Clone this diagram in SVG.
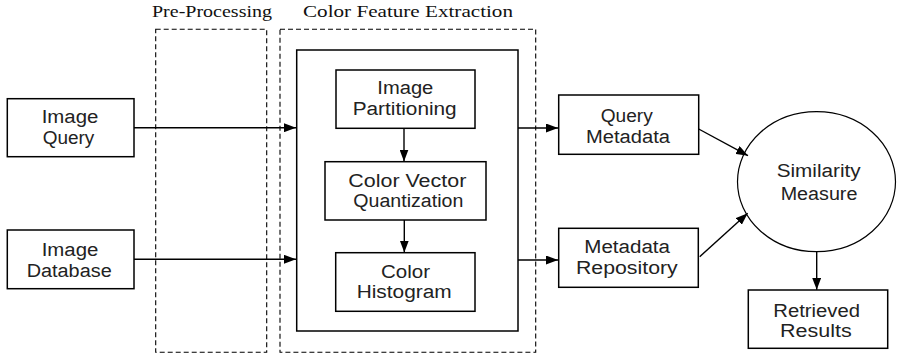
<svg xmlns="http://www.w3.org/2000/svg" width="897" height="353" viewBox="0 0 897 353">
<defs>
<style>
.box{fill:#fff;stroke:#000;stroke-width:1.5}
.dash{fill:none;stroke:#000;stroke-width:1.1;stroke-dasharray:5 3}
.t{font-family:"Liberation Sans",Arial,sans-serif;font-size:18px;fill:#222}
.s{font-family:"Liberation Serif","Times New Roman",serif;font-size:17px;fill:#111}
.c{fill:none;stroke:#000;stroke-width:1.4;marker-end:url(#ah)}
</style>
<marker id="ah" markerUnits="userSpaceOnUse" markerWidth="12" markerHeight="9" refX="12" refY="4.5" orient="auto">
<path d="M0,0 L12,4.5 L0,9 z" fill="#000"/>
</marker>
</defs>
<rect width="897" height="353" fill="#fff"/>

<g id="pre-processing">
<rect class="dash" x="155.7" y="29.3" width="111" height="323"/>
<text class="s" x="152" y="17" textLength="120" lengthAdjust="spacingAndGlyphs">Pre-Processing</text>
</g>
<g id="color-feature-extraction">
<rect class="dash" x="280" y="29.3" width="255.7" height="323"/>
<text class="s" x="303" y="17" textLength="210" lengthAdjust="spacingAndGlyphs">Color Feature Extraction</text>
<rect class="box" x="296.7" y="50" width="221.3" height="281"/>
</g>

<g id="image-query">
<rect class="box" x="7.3" y="98.7" width="126.7" height="58"/>
<text class="t" x="41.7" y="123.3" textLength="56.7" lengthAdjust="spacingAndGlyphs">Image</text>
<text class="t" x="42.7" y="144.3" textLength="51.6" lengthAdjust="spacingAndGlyphs">Query</text>
</g>
<g id="image-database">
<rect class="box" x="7.3" y="230" width="126.7" height="58.7"/>
<text class="t" x="41.7" y="256.3" textLength="56.7" lengthAdjust="spacingAndGlyphs">Image</text>
<text class="t" x="26.7" y="277" textLength="85" lengthAdjust="spacingAndGlyphs">Database</text>
</g>
<g id="image-partitioning">
<rect class="box" x="336" y="70" width="139" height="58.3"/>
<text class="t" x="377.3" y="93.5" textLength="56" lengthAdjust="spacingAndGlyphs">Image</text>
<text class="t" x="352.7" y="115" textLength="104" lengthAdjust="spacingAndGlyphs">Partitioning</text>
</g>
<g id="color-vector-quantization">
<rect class="box" x="325" y="161.7" width="161" height="58.3"/>
<text class="t" x="348.3" y="186.7" textLength="118" lengthAdjust="spacingAndGlyphs">Color Vector</text>
<text class="t" x="353.3" y="206.7" textLength="110" lengthAdjust="spacingAndGlyphs">Quantization</text>
</g>
<g id="color-histogram">
<rect class="box" x="335.7" y="252.7" width="139.3" height="58.6"/>
<text class="t" x="381" y="278.3" textLength="49" lengthAdjust="spacingAndGlyphs">Color</text>
<text class="t" x="356.7" y="298.3" textLength="95" lengthAdjust="spacingAndGlyphs">Histogram</text>
</g>
<g id="query-metadata">
<rect class="box" x="558.7" y="95" width="140" height="59.3"/>
<text class="t" x="600.7" y="121.7" textLength="52" lengthAdjust="spacingAndGlyphs">Query</text>
<text class="t" x="586" y="143" textLength="84" lengthAdjust="spacingAndGlyphs">Metadata</text>
</g>
<g id="metadata-repository">
<rect class="box" x="558.7" y="228.3" width="139.6" height="59"/>
<text class="t" x="584.3" y="253.3" textLength="85.7" lengthAdjust="spacingAndGlyphs">Metadata</text>
<text class="t" x="576" y="274" textLength="101.7" lengthAdjust="spacingAndGlyphs">Repository</text>
</g>
<g id="similarity-measure">
<ellipse cx="816.5" cy="181.7" rx="79" ry="70" fill="#fff" stroke="#000" stroke-width="1.2"/>
<text class="t" x="776.7" y="177.3" textLength="84" lengthAdjust="spacingAndGlyphs">Similarity</text>
<text class="t" x="780.7" y="200" textLength="76.7" lengthAdjust="spacingAndGlyphs">Measure</text>
</g>
<g id="retrieved-results">
<rect class="box" x="748.3" y="290" width="139.4" height="58.3"/>
<text class="t" x="773.3" y="316.7" textLength="86.7" lengthAdjust="spacingAndGlyphs">Retrieved</text>
<text class="t" x="780" y="336.7" textLength="71.7" lengthAdjust="spacingAndGlyphs">Results</text>
</g>

<g id="connectors">
<line class="c" x1="134" y1="127.7" x2="296" y2="127.7"/>
<line class="c" x1="134" y1="259.3" x2="296" y2="259.3"/>
<line class="c" x1="518" y1="128" x2="558" y2="128"/>
<line class="c" x1="518" y1="260" x2="558" y2="260"/>
<line class="c" x1="404" y1="128.3" x2="404" y2="161.5"/>
<line class="c" x1="404.3" y1="220" x2="404.3" y2="252.5"/>
<line class="c" x1="698.7" y1="129" x2="748" y2="155.7"/>
<line class="c" x1="699.7" y1="256.7" x2="747.7" y2="213.3"/>
<line class="c" x1="816.7" y1="251.7" x2="816.7" y2="289.8"/>
</g>
</svg>
